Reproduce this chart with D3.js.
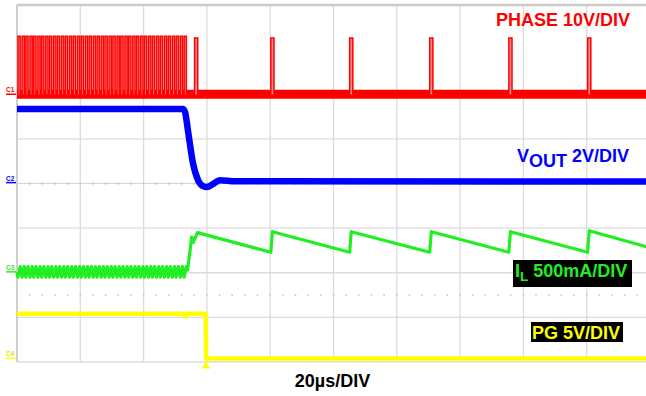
<!DOCTYPE html>
<html><head><meta charset="utf-8">
<script src="https://cdn.jsdelivr.net/npm/d3@7"></script>
<style>
body{margin:0;background:#fff}
svg{display:block}
text{font-family:"Liberation Sans",Arial,sans-serif;font-weight:bold}
</style>
</head><body>
<svg id="c" width="646" height="396"></svg>
<script>
// ---- scope settings ----
const channels = ["C1", "C2", "C3", "C4"];
const voltsPerDiv = [10, 2, 0.5, 5];          // PHASE V, VOUT V, IL A, PG V
const groundDiv = [2.0, 0.02, -1.98, -3.92];  // channel ground marker, in divisions
const channelColors = ["#ff0000", "#0000ff", "#22ee22", "#ffff00"];
const timePerDiv = 20;   // µs
const divX = 10, divY = 8;
const timeLabel = "20µs/DIV";

// ---- PHASE (V) ----
const phaseDensePulseStart = [0.3, 1.6, 2.8, 4.1, 5.3, 6.6, 7.8, 9.1, 10.3, 11.6, 12.8, 14.1, 15.3, 16.6, 17.8, 19.1, 20.3, 21.6, 22.8, 24.1, 25.3, 26.6, 27.8, 29.1, 30.3, 31.6, 32.8, 34.1, 35.3, 36.6, 37.8, 39.1, 40.3, 41.6, 42.8, 44.1, 45.3, 46.6, 47.8, 49.1, 50.3, 51.6, 52.8];
const phaseDenseWidth = 0.7;
const phaseDenseHigh = 13.0;
const phaseSparsePulseStart = [56.1, 80.2, 105.1, 130.4, 155.4, 180.3];
const phaseSparseWidth = 1.0;
const phaseSparseHigh = 12.6;
const phaseLowTime = [0, 200];
const phaseLowValue = [0, 0];

// ---- VOUT (V) ----
const voutTime  = [0, 52.4, 53.1, 54.0, 55.6, 57.2, 58.8, 60.0, 61.9, 64.1, 68.9, 200];
const voutValue = [3.3, 3.3, 3.16, 2.35, 0.87, 0.11, -0.16, -0.2, -0.07, 0.11, 0.06, 0.05];

// ---- IL (A) ----
const ilRippleValley = -0.06, ilRipplePeak = 0.06;
const ilTime  = [53.9, 55.2, 55.7, 57.0, 80.2, 80.7, 105.1, 105.6, 130.4, 130.9, 155.4, 155.9, 180.3, 180.8, 200];
const ilValue = [0.02, 0.39, 0.33, 0.44, 0.22, 0.45, 0.22, 0.45, 0.22, 0.45, 0.22, 0.45, 0.22, 0.46, 0.27];

// ---- PG (V) ----
const pgTime  = [0, 52.8, 53.2, 53.6, 59.6, 59.75, 200];
const pgValue = [5, 5, 4.7, 5, 5, 0, 0];
const triggerTime = 59.7;

// ---- scales ----
const svg = d3.select("#c");
const x = d3.scaleLinear().domain([0, timePerDiv * divX]).range([17, 650]);
const yDiv = d3.scaleLinear().domain([-divY / 2, divY / 2]).range([362, 5]);
const chY = i => v => yDiv(v / voltsPerDiv[i] + groundDiv[i]);
const line = i => d3.line().x(d => x(d[0])).y(d => chY(i)(d[1]));
const zip = (a, b) => a.map((t, k) => [t, b[k]]);

// ---- grid ----
const g = svg.append("g");
const vTicks = d3.range(1, divX + 1).map(k => k * timePerDiv);
g.selectAll(".vl").data(vTicks).join("line")
  .attr("x1", d => x(d)).attr("x2", d => x(d))
  .attr("y1", yDiv(4)).attr("y2", yDiv(-4))
  .attr("stroke", "#dcdcdc").attr("stroke-width", 1.3);
const hSolid = [1, -1, -2, -3, -4];
g.selectAll(".hl").data(hSolid).join("line")
  .attr("x1", x(0)).attr("x2", 646)
  .attr("y1", d => yDiv(d)).attr("y2", d => yDiv(d))
  .attr("stroke", "#dcdcdc").attr("stroke-width", 1.3);
// center line with minor ticks
g.append("line").attr("x1", x(0)).attr("x2", 646).attr("y1", yDiv(0)).attr("y2", yDiv(0))
  .attr("stroke", "#d6d6d6").attr("stroke-width", 1);
const minor = d3.range(0, divX * 5 + 1).map(k => k * timePerDiv / 5);
g.selectAll(".mt").data(minor).join("line")
  .attr("x1", d => x(d)).attr("x2", d => x(d))
  .attr("y1", yDiv(0) - 1.5).attr("y2", yDiv(0) + 1.5)
  .attr("stroke", "#c4c4c4").attr("stroke-width", 1);
// dotted row
g.selectAll(".dr").data(minor).join("rect")
  .attr("x", d => x(d) - 0.8).attr("y", yDiv(-2.5) - 0.8)
  .attr("width", 1.6).attr("height", 1.6).attr("fill", "#c8c8c8");
// frame
g.append("line").attr("x1", x(0)).attr("x2", 646).attr("y1", yDiv(4)).attr("y2", yDiv(4))
  .attr("stroke", "#cbcbcb").attr("stroke-width", 2.5);
g.append("line").attr("x1", x(0)).attr("x2", x(0)).attr("y1", yDiv(4)).attr("y2", yDiv(-4))
  .attr("stroke", "#cfcfcf").attr("stroke-width", 2);

// ---- PG (C4) ----
svg.append("path").datum(zip(pgTime, pgValue))
  .attr("d", line(3)).attr("fill", "none")
  .attr("stroke", channelColors[3]).attr("stroke-width", 4.5).attr("stroke-linejoin", "round");
svg.append("path")
  .attr("d", d3.symbol(d3.symbolTriangle, 32)())
  .attr("transform", `translate(${x(triggerTime)},${yDiv(-4) + 4})`)
  .attr("fill", channelColors[3]);

// ---- IL (C3) ----
const ripple = [[0, 0]];
phaseDensePulseStart.forEach(p => { ripple.push([p, ilRippleValley]); ripple.push([p + phaseDenseWidth, ilRipplePeak]); });
const ilPts = ripple.concat(zip(ilTime, ilValue));
svg.append("path").datum(ilPts)
  .attr("d", line(2)).attr("fill", "none")
  .attr("stroke", channelColors[2]).attr("stroke-width", 3.2).attr("stroke-linejoin", "round");

// ---- VOUT (C2) ----
svg.append("path").datum(zip(voutTime, voutValue))
  .attr("d", line(1).curve(d3.curveMonotoneX)).attr("fill", "none")
  .attr("stroke", channelColors[1]).attr("stroke-width", 6.5).attr("stroke-linejoin", "round");

// ---- PHASE (C1) ----
svg.append("path").datum(zip(phaseLowTime, phaseLowValue))
  .attr("d", line(0)).attr("fill", "none")
  .attr("stroke", channelColors[0]).attr("stroke-width", 9);
const pulses = phaseDensePulseStart.map(t => ({t, w: phaseDenseWidth, h: phaseDenseHigh}))
  .concat(phaseSparsePulseStart.map(t => ({t, w: phaseSparseWidth, h: phaseSparseHigh})));
svg.selectAll(".pulse").data(pulses).join("path")
  .attr("d", d => d3.line()([[x(d.t), chY(0)(0)], [x(d.t), chY(0)(d.h)], [x(d.t + d.w), chY(0)(d.h)], [x(d.t + d.w), chY(0)(0)]]))
  .attr("fill", "#ff8c8c").attr("stroke", channelColors[0]).attr("stroke-width", 1.5);

// ---- channel markers ----
channels.forEach((c, i) => {
  const gy = chY(i)(0);
  svg.append("text").attr("x", 6).attr("y", gy - 2).text(c)
    .attr("font-size", 6.5).attr("font-weight", "normal").attr("fill", channelColors[i] === "#ffff00" ? "#e6e600" : channelColors[i]);
  svg.append("line").attr("x1", 6).attr("x2", 16).attr("y1", gy).attr("y2", gy)
    .attr("stroke", channelColors[i]).attr("stroke-width", 1.5);
});

// ---- labels ----
svg.append("text").attr("x", 630).attr("y", 26).attr("text-anchor", "end")
  .attr("font-size", 18).attr("fill", "#ff0000").text("PHASE 10V/DIV");

const tv = svg.append("text").attr("x", 517).attr("y", 162).attr("font-size", 18).attr("fill", "#0000ff");
tv.append("tspan").text("V");
tv.append("tspan").attr("dy", 5).text("OUT");
tv.append("tspan").attr("dy", -5).text(" 2V/DIV");

svg.append("rect").attr("x", 513).attr("y", 260).attr("width", 119).attr("height", 27).attr("fill", "#000");
const ti = svg.append("text").attr("x", 515).attr("y", 277).attr("font-size", 18).attr("fill", "#22ee22");
ti.append("tspan").text("I");
ti.append("tspan").attr("dy", 4).attr("font-size", 13.5).text("L");
ti.append("tspan").attr("dy", -4).text(" 500mA/DIV");

svg.append("rect").attr("x", 531).attr("y", 322).attr("width", 92).attr("height", 20).attr("fill", "#000");
svg.append("text").attr("x", 532).attr("y", 339).attr("font-size", 18).attr("fill", "#ffff00").text("PG 5V/DIV");

svg.append("text").attr("x", 332.5).attr("y", 387).attr("text-anchor", "middle")
  .attr("font-size", 18).attr("fill", "#000").text(timeLabel);
</script>
</body></html>
